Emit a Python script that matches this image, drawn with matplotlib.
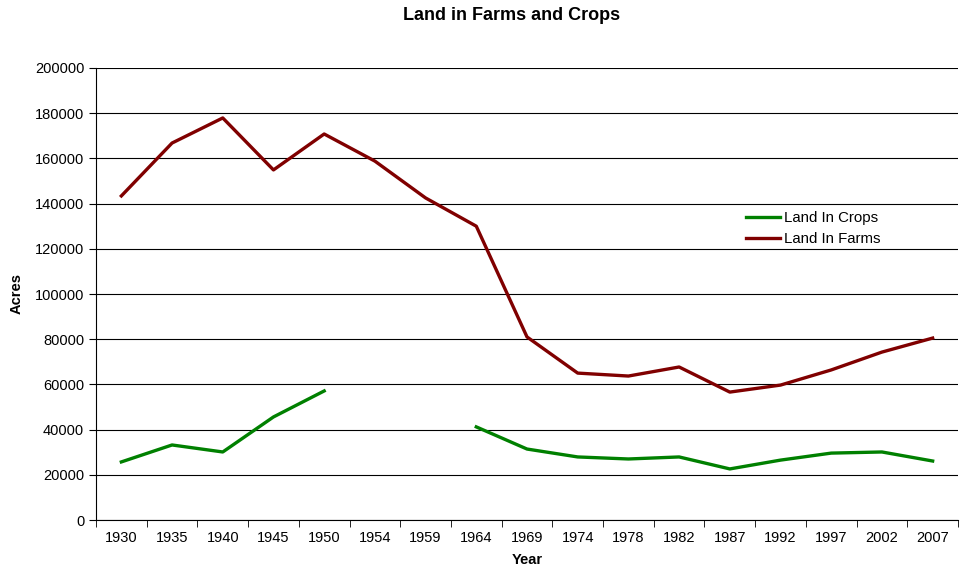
import numpy as np
import matplotlib.pyplot as plt

plt.rcParams['font.family'] = ['Liberation Sans', 'DejaVu Sans']

years = ['1930', '1935', '1940', '1945', '1950', '1954', '1959', '1964', '1969',
         '1974', '1978', '1982', '1987', '1992', '1997', '2002', '2007']
farms = [143400, 166800, 177900, 154900, 170800, 158800, 142500, 130000, 81000,
         65000, 63700, 67700, 56600, 59700, 66400, 74300, 80500]
crops = [25700, 33200, 30100, 45600, 57100, np.nan, np.nan, 41200, 31400,
         27900, 27000, 27900, 22600, 26500, 29600, 30100, 26100]

x = np.arange(len(years))

fig = plt.figure(figsize=(9.6, 5.77), dpi=100)
ax = fig.add_axes([96 / 960, 57 / 577, 862 / 960, 452 / 577])

ax.plot(x, crops, color='#008000', lw=2.4, label='Land In Crops')
ax.plot(x, farms, color='#800000', lw=2.4, label='Land In Farms')

ax.set_xlim(-0.5, len(years) - 0.5)
ax.set_ylim(0, 200000)
ax.set_yticks(np.arange(0, 200001, 20000))
ax.set_xticks(x)
ax.set_xticklabels(years, fontsize=10.5)
ax.set_xticks(np.arange(-0.5, len(years), 1), minor=True)
ax.tick_params(axis='x', which='major', length=0, pad=8)
ax.tick_params(axis='x', which='minor', length=5, direction='out')
ax.tick_params(axis='y', length=5, direction='out', labelsize=10.5)
ax.grid(axis='y', color='black', lw=0.8)
ax.set_axisbelow(True)
for s in ['top', 'right']:
    ax.spines[s].set_visible(False)

ax.set_xlabel('Year', fontsize=10.5, fontweight='bold', labelpad=6)
ax.set_ylabel('Acres', fontsize=10.5, fontweight='bold', labelpad=8)
fig.text(512 / 960, 1 - 16 / 577, 'Land in Farms and Crops', ha='center', va='center',
         fontsize=13, fontweight='bold')

ax.legend(loc='upper left', bbox_to_anchor=(0.745, 0.70), frameon=False, fontsize=10.8,
          handlelength=2.3, handletextpad=0.25, labelspacing=0.45, borderpad=0)

fig.savefig('out.png', dpi=100)
